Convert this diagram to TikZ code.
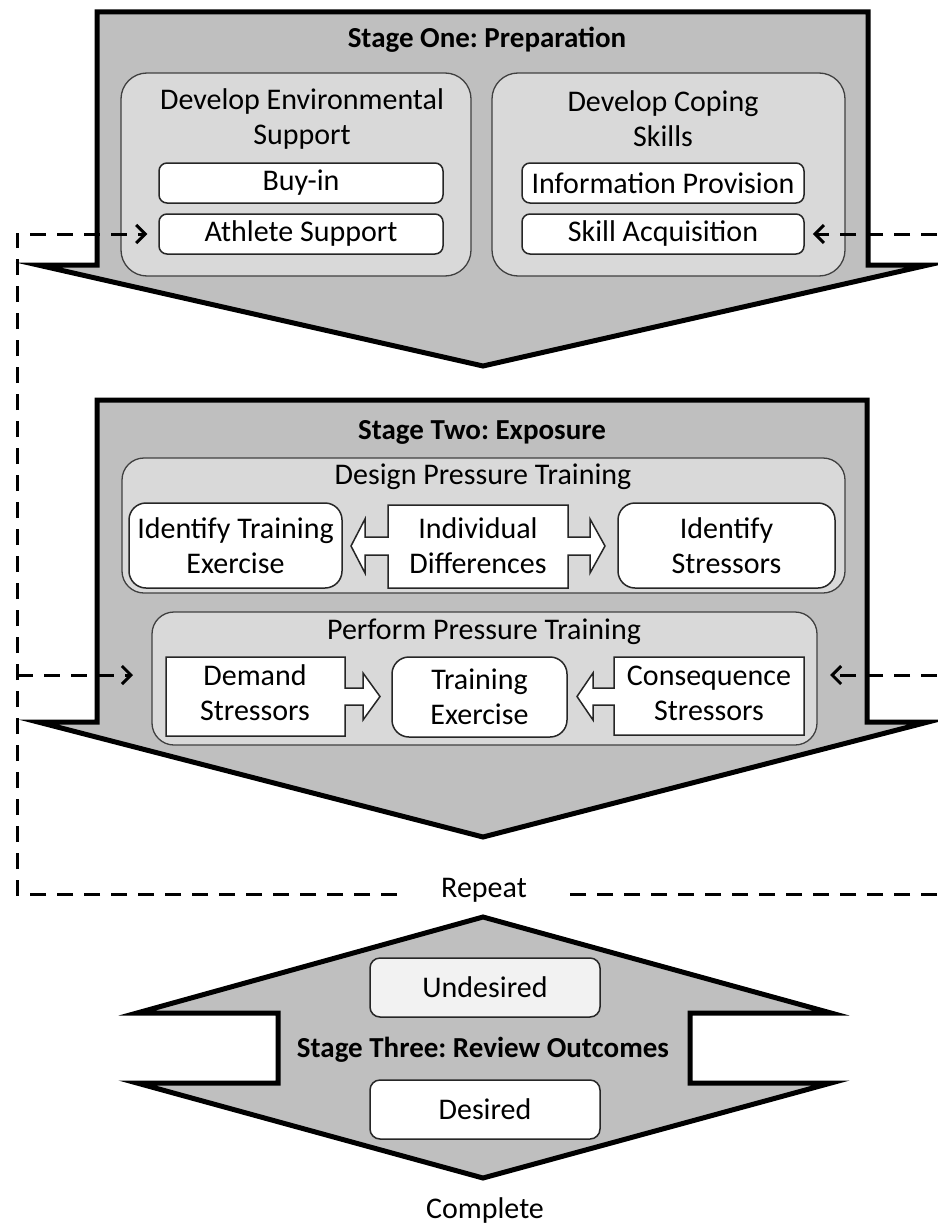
\documentclass[tikz,border=0pt]{standalone}
\usepackage{fontspec}
\setmainfont{Carlito}
\usetikzlibrary{arrows.meta}
\definecolor{arrowgray}{HTML}{BFBFBF}
\definecolor{contgray}{HTML}{D9D9D9}
\definecolor{undgray}{HTML}{F2F2F2}
\frenchspacing
\begin{document}
\begin{tikzpicture}[x=1pt,y=-1pt,
  txt/.style={font=\fontsize{30pt}{35pt}\selectfont, align=center, inner sep=0pt},
  ttl/.style={font=\fontsize{29pt}{35pt}\selectfont\bfseries, align=center, inner sep=0pt},
  bigarrow/.style={fill=arrowgray, draw=black, line width=5pt, line join=miter},
  container/.style={draw=black!75, fill=contgray, line width=1.3pt, rounded corners=26pt, inner sep=0pt},
  wbox/.style={txt, draw=black!85, fill=white, line width=1.5pt, rounded corners=8pt},
  rbox/.style={txt, draw=black!85, fill=white, line width=1.5pt, rounded corners=17pt},
  ashape/.style={draw=black!85, fill=white, line width=1.5pt, line join=miter},
  dashline/.style={draw=black, line width=3pt, dash pattern=on 16pt off 11pt},
  tipr/.style={-{Straight Barb[length=9pt,width=18pt]}}
]
\useasboundingbox (0,0) rectangle (937,1228);

% ---------- Stage One ----------
\path[bigarrow] (97,12) -- (868,12) -- (868,265) -- (928,265) -- (483,366) -- (38,265) -- (97,265) -- cycle;
\node[ttl] (title1) at (487,40) {Stage One: Preparation};

\node[container, minimum width=350pt, minimum height=203pt] (envC) at (296,174.5) {};
\node[txt] (envT) at (302,119) {Develop Environmental\\Support};
\node[wbox, minimum width=284pt, minimum height=40pt] (buyin) at (301,183) {Buy-in};
\node[wbox, minimum width=284pt, minimum height=40pt] (athlete) at (301,234) {Athlete Support};

\node[container, minimum width=353pt, minimum height=203pt] (copC) at (668.5,174.5) {};
\node[txt] (copT) at (663,119) {Develop Coping\\Skills};
\node[wbox, minimum width=282pt, minimum height=40pt] (info) at (663,183) {Information Provision};
\node[wbox, minimum width=282pt, minimum height=40pt] (skill) at (663,234) {Skill Acquisition};

% ---------- Stage Two ----------
\path[bigarrow] (97,400) -- (867,400) -- (867,722) -- (928,722) -- (483,837) -- (38,722) -- (97,722) -- cycle;
\node[ttl] (title2) at (482,432) {Stage Two: Exposure};

\node[container, rounded corners=22pt, minimum width=723pt, minimum height=135pt] (designC) at (483.5,525.5) {};
\node[txt] (designT) at (483,477) {Design Pressure Training};
\node[rbox, minimum width=213pt, minimum height=85pt] (idte) at (235.5,545.5) {Identify Training\\Exercise};
\path[ashape] (388,505) -- (568,505) -- (568,537) -- (590,537) -- (590,519) -- (605,546) -- (590,573) -- (590,555) -- (568,555) -- (568,588) -- (388,588) -- (388,555) -- (365,555) -- (365,573) -- (351,546) -- (365,519) -- (365,537) -- (388,537) -- cycle;
\node[txt] (indiv) at (478,546) {Individual\\Differences};
\node[rbox, minimum width=217pt, minimum height=85pt] (idst) at (726.5,545.5) {Identify\\Stressors};

\node[container, rounded corners=22pt, minimum width=665pt, minimum height=133pt] (performC) at (484.5,678.5) {};
\node[txt] (performT) at (484,632) {Perform Pressure Training};
\path[ashape] (166,657) -- (345,657) -- (345,688) -- (363,688) -- (363,673) -- (380,696.5) -- (363,720) -- (363,705) -- (345,705) -- (345,736) -- (166,736) -- cycle;
\node[txt] (demand) at (255,693) {Demand\\Stressors};
\node[rbox, minimum width=175pt, minimum height=80pt] (training) at (479.5,697) {Training\\Exercise};
\path[ashape] (614,657) -- (804,657) -- (804,735) -- (614,735) -- (614,705) -- (593,705) -- (593,720) -- (577,696.5) -- (593,673) -- (593,688) -- (614,688) -- cycle;
\node[txt] (conseq) at (709,693) {Consequence\\Stressors};

% ---------- Stage Three ----------
\path[bigarrow] (483,917) -- (831,1013) -- (690,1013) -- (690,1083) -- (831,1083) -- (483,1178) -- (137,1083) -- (278,1083) -- (278,1013) -- (137,1013) -- cycle;
\node[wbox, fill=undgray, rounded corners=10pt, minimum width=230pt, minimum height=59pt] (undesired) at (485,987.5) {Undesired};
\node[ttl] (title3) at (483,1050) {Stage Three: Review Outcomes};
\node[wbox, rounded corners=10pt, minimum width=230pt, minimum height=59pt] (desired) at (485,1109.5) {Desired};

\node[txt] (repeat) at (484,890) {Repeat};
\node[txt] (complete) at (485,1210) {Complete};

% ---------- Dashed feedback connectors ----------
\coordinate (repL) at (397,894);
\coordinate (repR) at (562,894);
\coordinate (blc) at (17,894);
\coordinate (brc) at (937,894);
\coordinate (lmid) at (17,675);
\coordinate (ltip) at (133,675);
\coordinate (rtop) at (937,234);
\coordinate (rmid) at (937,675);
\coordinate (rtip) at (830,675);

\draw[dashline, tipr, shorten >=11pt] (repL) -- (blc) |- (athlete.west);
\draw[dashline, tipr] (lmid) -- (ltip);
\draw[dashline] (brc) -- (repR);
\draw[dashline, tipr, shorten >=8pt] (rtop) -- (skill.east);
\draw[dashline, tipr] (rmid) -- (rtip);
\end{tikzpicture}
\end{document}
